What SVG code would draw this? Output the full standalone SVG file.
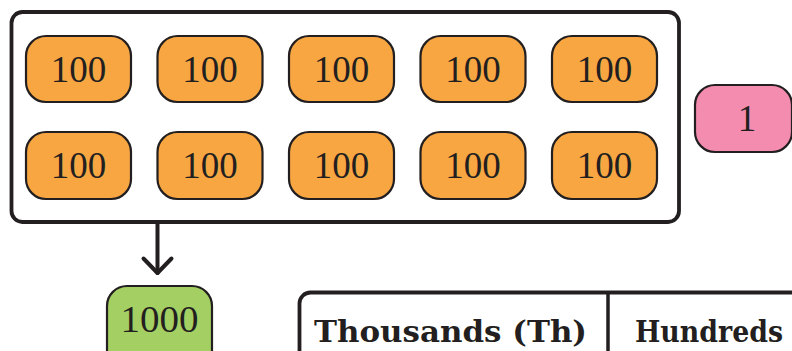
<svg xmlns="http://www.w3.org/2000/svg" width="792" height="351" viewBox="0 0 792 351">
<style>
.pill{stroke:#231f20;stroke-width:2.2}
.o{fill:#f7a642}
.num{font-family:"Liberation Serif","DejaVu Serif",serif;font-size:37px;fill:#231f20;text-anchor:middle}
.hd{font-family:"DejaVu Serif","Liberation Serif",serif;font-weight:bold;font-size:30px;fill:#231f20}
.frame{fill:#fff;stroke:#231f20;stroke-width:3.8}
</style>
<rect width="792" height="351" fill="#fff"/>
<g id="group-hundreds">
<rect class="frame" x="11.5" y="12" width="667.5" height="210" rx="11"/>
<g id="h1"><rect class="pill o" x="26" y="36" width="105" height="66" rx="20"/><text class="num" x="78.5" y="82">100</text></g>
<g id="h2"><rect class="pill o" x="157.5" y="36" width="105" height="66" rx="20"/><text class="num" x="210" y="82">100</text></g>
<g id="h3"><rect class="pill o" x="289" y="36" width="105" height="66" rx="20"/><text class="num" x="341.5" y="82">100</text></g>
<g id="h4"><rect class="pill o" x="420.5" y="36" width="105" height="66" rx="20"/><text class="num" x="473" y="82">100</text></g>
<g id="h5"><rect class="pill o" x="552" y="36" width="105" height="66" rx="20"/><text class="num" x="604.5" y="82">100</text></g>
<g id="h6"><rect class="pill o" x="26" y="132" width="105" height="67" rx="20"/><text class="num" x="78.5" y="178">100</text></g>
<g id="h7"><rect class="pill o" x="157.5" y="132" width="105" height="67" rx="20"/><text class="num" x="210" y="178">100</text></g>
<g id="h8"><rect class="pill o" x="289" y="132" width="105" height="67" rx="20"/><text class="num" x="341.5" y="178">100</text></g>
<g id="h9"><rect class="pill o" x="420.5" y="132" width="105" height="67" rx="20"/><text class="num" x="473" y="178">100</text></g>
<g id="h10"><rect class="pill o" x="552" y="132" width="105" height="67" rx="20"/><text class="num" x="604.5" y="178">100</text></g>
</g>
<g id="one"><rect class="pill" fill="#f48cb0" x="695" y="85" width="97" height="67" rx="20"/><text class="num" x="747" y="131">1</text></g>
<g id="connectors" fill="none" stroke="#231f20" stroke-width="4" stroke-linecap="round" stroke-linejoin="round">
<line x1="157.5" y1="222" x2="157.5" y2="273"/>
<polyline points="143.5,258.5 157.5,273 171.5,258.5"/>
</g>
<g id="thousand"><rect class="pill" fill="#a4cf62" x="107" y="286" width="105" height="90" rx="20"/><text class="num" x="159.5" y="332" textLength="78" lengthAdjust="spacingAndGlyphs">1000</text></g>
<g id="table">
<rect class="frame" x="299.5" y="292.5" width="560" height="120" rx="11"/>
<line x1="608" y1="292" x2="608" y2="351" stroke="#231f20" stroke-width="3.5"/>
<text class="hd" x="314" y="342" textLength="273" lengthAdjust="spacingAndGlyphs">Thousands (Th)</text>
<text class="hd" x="635" y="342" textLength="148" lengthAdjust="spacingAndGlyphs">Hundreds</text>
</g>
</svg>
